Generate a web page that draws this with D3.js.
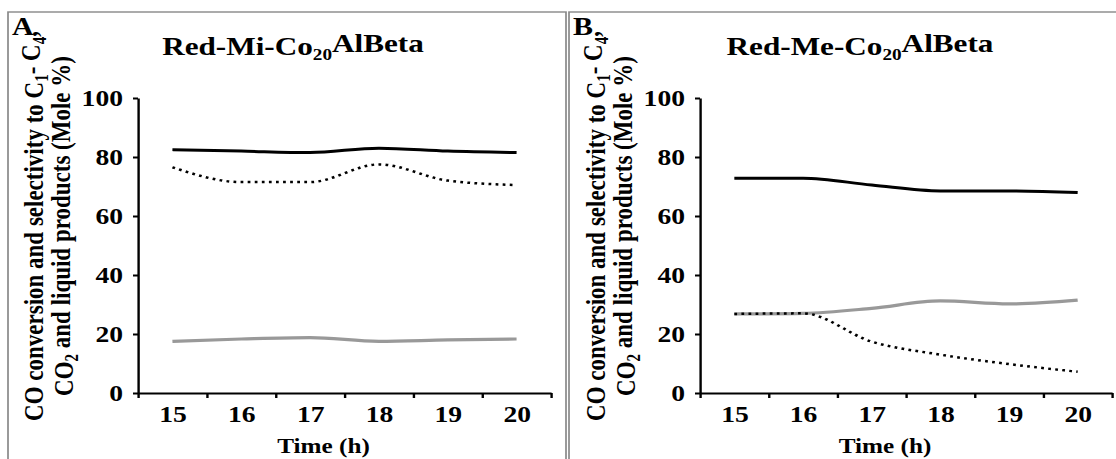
<!DOCTYPE html>
<html>
<head>
<meta charset="utf-8" />
<title>Red-Co20AlBeta time on stream</title>
<script src="https://d3js.org/d3.v7.min.js"></script>
<style>
  body { margin: 0; background: #fff; }
  text { font-family: "Liberation Serif", "Times New Roman", serif; font-weight: bold; fill: #000; }
  .axis path, .axis line { stroke: #000; stroke-width: 2px; }
  .line { fill: none; }
</style>
</head>
<body>
<script>
// data
var hours = [15, 16, 17, 18, 19, 20];
var yTicks = [0, 20, 40, 60, 80, 100];

var miSolid  = [82.5, 82, 81.5, 83, 82, 81.5];
var miDotted = [76.5, 71.5, 71.5, 77.5, 72, 70.5];
var miGray   = [17.5, 18.3, 18.8, 17.5, 18, 18.3];

var meSolid  = [72.8, 72.8, 70.5, 68.5, 68.5, 68];
var meDotted = [26.8, 27, 17.4, 13, 9.8, 7.2];
var meGray   = [26.8, 27, 28.7, 31.2, 30.2, 31.5];

var W = 1116, H = 459;
// the original figure is stretched sideways, so the drawing is too
var SX = 1.2;
function px(v) { return v / SX; }

var svg = d3.select("body").append("svg")
    .attr("width", W).attr("height", H)
    .attr("viewBox", "0 0 " + (W / SX) + " " + H)
    .attr("preserveAspectRatio", "none");

var panels = [
  { letter: "A", mid: "Mi", box: [8, 566], x0: 138, x1: 551, titleX: 293,
    series: [ {v: miSolid, c: "#000", dash: null, w: 3},
              {v: miDotted, c: "#000", dash: "2.3,3.6", w: 2.5},
              {v: miGray, c: "#999", dash: null, w: 3.2} ] },
  { letter: "B", mid: "Me", box: [569, 1130], x0: 700, x1: 1112, titleX: 860,
    series: [ {v: meSolid, c: "#000", dash: null, w: 3},
              {v: meGray, c: "#999", dash: null, w: 3.2},
              {v: meDotted, c: "#000", dash: "2.3,3.6", w: 2.5} ] }
];

var yTop = 98, yBot = 393;
var y = d3.scaleLinear().domain([0, 100]).range([yBot, yTop]);

panels.forEach(function(p) {
  // frame
  svg.append("rect")
     .attr("x", px(p.box[0])).attr("y", 12)
     .attr("width", px(p.box[1] - p.box[0])).attr("height", H)
     .attr("fill", "none").attr("stroke", "#888").attr("stroke-width", 1.4);

  var x = d3.scaleLinear().domain([14.5, 20.5]).range([px(p.x0), px(p.x1)]);
  var g = svg.append("g");

  // y axis
  g.append("g").attr("class", "axis")
   .attr("transform", "translate(" + px(p.x0) + ",0)")
   .call(d3.axisLeft(y).tickValues(yTicks).tickSize(px(5)).tickSizeOuter(0).tickPadding(px(10)))
   .selectAll("text").style("font-size", "23px").attr("dy", "0.34em");

  // x axis: marks between hours, labels in the middle
  var xa = g.append("g").attr("class", "axis")
   .attr("transform", "translate(0," + yBot + ")");
  xa.call(d3.axisBottom(x).tickValues(d3.range(14.5, 20.6, 1)).tickSize(5).tickSizeOuter(0).tickFormat(""));
  xa.append("g")
   .call(d3.axisBottom(x).tickValues(hours).tickSize(0).tickPadding(13).tickFormat(d3.format("d")))
   .call(function(s) { s.select(".domain").remove(); })
   .selectAll("text").style("font-size", "23px");

  // series
  var line = d3.line()
    .x(function(d, i) { return x(hours[i]); })
    .y(function(d) { return y(d); })
    .curve(d3.curveMonotoneX);
  p.series.forEach(function(s) {
    g.append("path").attr("class", "line")
     .attr("d", line(s.v))
     .attr("stroke", s.c).attr("stroke-width", s.w)
     .attr("stroke-dasharray", s.dash);
  });

  // x title
  g.append("text").attr("x", px(p.x0 + (p.x1 - p.x0) / 2 - 21)).attr("y", 453)
   .attr("text-anchor", "middle").style("font-size", "21px").text("Time (h)");

  // y title, two lines
  var yl = g.append("text")
   .attr("transform", "translate(" + px(p.x0 - 95) + ",226) rotate(-90)")
   .attr("text-anchor", "middle").style("font-size", "23px");
  var l1 = yl.append("tspan").attr("x", 0).attr("y", 0);
  l1.append("tspan").text("CO conversion and selectivity to C");
  l1.append("tspan").attr("dy", "0.3em").style("font-size", "15px").text("1");
  l1.append("tspan").attr("dy", "-0.3em").text("- C");
  l1.append("tspan").attr("dy", "0.3em").style("font-size", "15px").text("4");
  l1.append("tspan").attr("dy", "-0.3em").text(",");
  var l2 = yl.append("tspan").attr("x", 0).attr("y", 25);
  l2.append("tspan").text("CO");
  l2.append("tspan").attr("dy", "0.3em").style("font-size", "15px").text("2");
  l2.append("tspan").attr("dy", "-0.3em").text(" and liquid products (Mole %)");

  // panel letter
  g.append("text").attr("x", px(p.box[0] + 4)).attr("y", 35)
   .style("font-size", "25px").text(p.letter);

  // panel title
  var t = g.append("text").attr("x", px(p.titleX)).attr("y", 55)
   .attr("text-anchor", "middle").style("font-size", "26px");
  t.append("tspan").text("Red-" + p.mid + "-Co");
  t.append("tspan").attr("dy", "0.3em").style("font-size", "16px").text("20");
  t.append("tspan").attr("dy", "-0.3em").text("AlBeta");
});
</script>
</body>
</html>
